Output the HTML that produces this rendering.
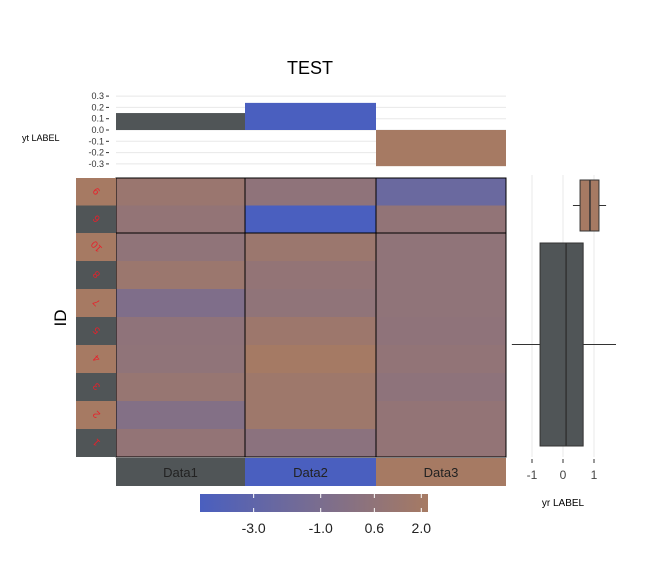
<!DOCTYPE html>
<html><head><meta charset="utf-8">
<style>body{margin:0;background:#fff}svg{display:block;font-family:"Liberation Sans",sans-serif}</style>
</head><body>
<svg id="c" width="661" height="565" viewBox="0 0 661 565"></svg>
<script>
const columns=["Data1","Data2","Data3"];
const rowIds=["9","6","10","8","7","5","4","3","2","1"];
const data1=[1.3,0.8,0.6,1.4,-0.7,0.5,0.6,1.1,-0.4,0.8];
const data2=[0.5,-4.6,1.4,0.8,0.6,1.5,2.1,1.6,1.6,0.2];
const data3=[-2.2,0.7,0.6,0.6,0.6,0.5,0.7,0.4,0.8,0.8];
const topBarValues=[0.15,0.24,-0.32];
const topTicks=[0.3,0.2,0.1,0.0,-0.1,-0.2,-0.3];
const colorTicks=[-3.0,-1.0,0.6,2.0];
const boxQ1=[0.55,-0.74],boxMed=[0.87,0.1],boxQ3=[1.16,0.65],boxLo=[0.32,-1.65],boxHi=[1.39,1.71];
const boxTicks=[-1,0,1];
const NS="http://www.w3.org/2000/svg",svg=document.getElementById('c');
function mk(t,a,p,txt){const e=document.createElementNS(NS,t);for(const k in a)e.setAttribute(k,a[k]);if(txt!==undefined)e.textContent=txt;(p||svg).appendChild(e);return e;}
const grp=["#505557","#4a5fbf","#a67a63"];
const vmin=-4.6,vmax=2.2;
function col(v){const t=Math.max(0,Math.min(1,(v-vmin)/(vmax-vmin)));const a=[74,95,191],b=[166,122,99];return `rgb(${a.map((x,i)=>Math.round(x+(b[i]-x)*t)).join(',')})`;}
const colX=[116,245,376,506];
const rowY=i=>i<2?178+i*27.5:233+(i-2)*28;
const rowH=i=>i<2?27.5:28;
// title
let e=mk('text',{x:310,y:74,'text-anchor':'middle','font-size':18},null,'TEST');
// top bars
const ty=v=>130-v*113;
topTicks.forEach(v=>{let g=mk('line',{x1:116,x2:506,y1:ty(v),y2:ty(v),stroke:'#e8e8e8'});
let t=mk('text',{x:104,y:ty(v)+3,'text-anchor':'end','font-size':9,fill:'#333'},null,v.toFixed(1));
mk('line',{x1:106,x2:109,y1:ty(v),y2:ty(v),stroke:'#333'});});
topBarValues.forEach((v,i)=>{let r=mk('rect',{x:colX[i],width:colX[i+1]-colX[i],y:Math.min(ty(v),ty(0)),height:Math.abs(ty(v)-ty(0)),fill:grp[i]});});
e=mk('text',{x:22,y:141,'font-size':9},null,'yt LABEL');
// heatmap
[data1,data2,data3].forEach((arr,c)=>arr.forEach((v,i)=>{let r=mk('rect',{x:colX[c],y:rowY(i),width:colX[c+1]-colX[c],height:rowH(i),fill:col(v)});}));
[[116,178,390,55],[116,233,390,224]].forEach(b=>mk('rect',{x:b[0],y:b[1],width:b[2],height:b[3],fill:'none',stroke:'#000','stroke-width':1}));
[245,376].forEach(x=>mk('line',{x1:x,x2:x,y1:178,y2:457,stroke:'#000'}));
// row labels
rowIds.forEach((id,i)=>{let r=mk('rect',{x:76,y:rowY(i),width:40,height:rowH(i),fill:i%2==0?'#a67a63':'#505557'});
const cy=rowY(i)+rowH(i)/2;let t=mk('text',{x:96,y:cy+4,'text-anchor':'middle','font-size':10,fill:'#e8202a',transform:`rotate(-135 96 ${cy})`},null,id);});
e=mk('text',{x:66,y:318,'text-anchor':'middle','font-size':17,transform:'rotate(-90 66 318)'},null,'ID');
// column labels
columns.forEach((c,i)=>{let r=mk('rect',{x:colX[i],y:458,width:colX[i+1]-colX[i],height:28,fill:grp[i]});
let t=mk('text',{x:(colX[i]+colX[i+1])/2,y:477,'text-anchor':'middle','font-size':13,fill:'#222'},null,c);});
// colorbar
const cbx=v=>200+(v-vmin)/(vmax-vmin)*228;
const defs=mk('defs',{});const lg=mk('linearGradient',{id:'g1'},defs);mk('stop',{offset:'0','stop-color':col(vmin)},lg);mk('stop',{offset:'1','stop-color':col(vmax)},lg);
e=mk('rect',{x:200,y:494,width:228,height:18,fill:'url(#g1)'});
colorTicks.forEach(v=>{mk('line',{x1:cbx(v),x2:cbx(v),y1:494,y2:498,stroke:'#fff'});mk('line',{x1:cbx(v),x2:cbx(v),y1:508,y2:512,stroke:'#fff'});
let t=mk('text',{x:cbx(v),y:533,'text-anchor':'middle','font-size':14,fill:'#222'},null,v.toFixed(1));});
// boxplot
const bx=v=>563+v*31;
boxTicks.forEach(v=>{mk('line',{x1:bx(v),x2:bx(v),y1:175,y2:457,stroke:'#e8e8e8'});mk('line',{x1:bx(v),x2:bx(v),y1:459,y2:463,stroke:'#333'});
let t=mk('text',{x:bx(v),y:479,'text-anchor':'middle','font-size':12,fill:'#444'},null,String(v));});
const bands=[[180,231],[243,446]],bfill=['#a67a63','#505557'];
bands.forEach((b,i)=>{const cy=(b[0]+b[1])/2;
mk('line',{x1:bx(boxLo[i]),x2:bx(boxQ1[i]),y1:cy,y2:cy,stroke:'#333'});mk('line',{x1:bx(boxQ3[i]),x2:bx(boxHi[i]),y1:cy,y2:cy,stroke:'#333'});
let r=mk('rect',{x:bx(boxQ1[i]),y:b[0],width:bx(boxQ3[i])-bx(boxQ1[i]),height:b[1]-b[0],fill:bfill[i],stroke:'#333'});
mk('line',{x1:bx(boxMed[i]),x2:bx(boxMed[i]),y1:b[0],y2:b[1],stroke:'#333','stroke-width':1.5});});
e=mk('text',{x:563,y:506,'text-anchor':'middle','font-size':10},null,'yr LABEL');
</script>
</body></html>
